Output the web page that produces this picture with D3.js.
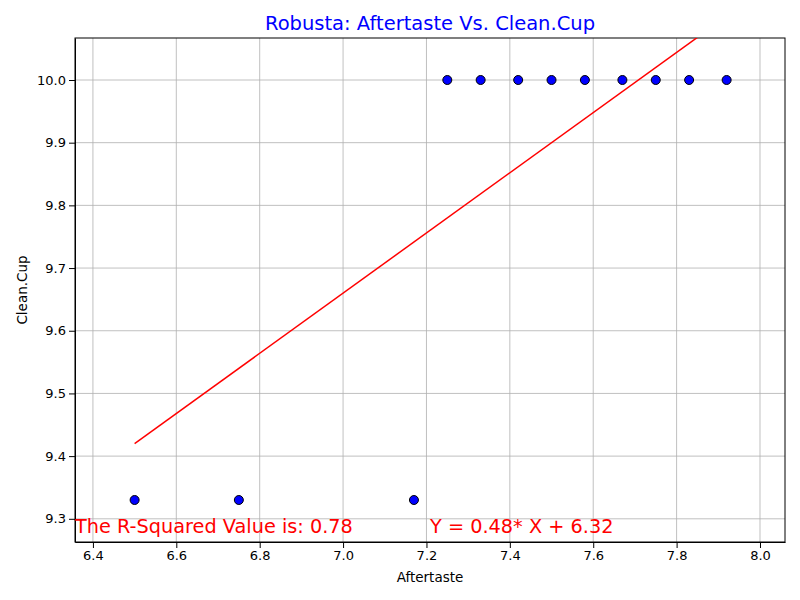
<!DOCTYPE html>
<html><head><meta charset="utf-8">
<script src="https://cdn.jsdelivr.net/npm/d3@7"></script>
<style>body{margin:0;background:#fff}text{font-family:"DejaVu Sans",sans-serif}</style>
</head><body><svg id="c" width="800" height="600"></svg>
<script>
const aftertaste = [6.5, 6.75, 7.17, 7.25, 7.33, 7.42, 7.5, 7.58, 7.67, 7.75, 7.83, 7.92];
const cleanCup = [9.33, 9.33, 9.33, 10, 10, 10, 10, 10, 10, 10, 10, 10];
const fit = { slope: 0.48, intercept: 6.30 };
const xTicks = [6.4, 6.6, 6.8, 7.0, 7.2, 7.4, 7.6, 7.8, 8.0];
const yTicks = [9.3, 9.4, 9.5, 9.6, 9.7, 9.8, 9.9, 10.0];

const svg = d3.select('#c');
const m = { l: 75, r: 785, t: 38, b: 542 };
const x = d3.scaleLinear().domain([6.357, 8.06]).range([m.l, m.r]);
const y = d3.scaleLinear().domain([9.263, 10.067]).range([m.b, m.t]);

svg.append('defs').append('clipPath').attr('id', 'clip')
	.append('rect').attr('x', m.l).attr('y', m.t).attr('width', m.r - m.l).attr('height', m.b - m.t);

const grid = svg.append('g').attr('stroke', '#b0b0b0').attr('stroke-width', 0.8);
grid.selectAll('.gx').data(xTicks).enter().append('line')
	.attr('x1', d => x(d)).attr('x2', d => x(d)).attr('y1', m.t).attr('y2', m.b);
grid.selectAll('.gy').data(yTicks).enter().append('line')
	.attr('y1', d => y(d)).attr('y2', d => y(d)).attr('x1', m.l).attr('x2', m.r);

svg.append('g').attr('transform', `translate(0,${m.b})`)
	.call(d3.axisBottom(x).tickValues(xTicks).tickFormat(d3.format('.1f')).tickSizeOuter(0))
	.call(g => g.selectAll('text').attr('font-size', 13).attr('fill', '#000'));
svg.append('g').attr('transform', `translate(${m.l},0)`)
	.call(d3.axisLeft(y).tickValues(yTicks).tickFormat(d3.format('.1f')).tickSizeOuter(0))
	.call(g => g.selectAll('text').attr('font-size', 13).attr('fill', '#000'));
svg.append('rect').attr('x', m.l).attr('y', m.t).attr('width', m.r - m.l).attr('height', m.b - m.t)
	.attr('fill', 'none').attr('stroke', '#000');

svg.append('g').selectAll('circle').data(aftertaste).enter().append('circle')
	.attr('cx', d => x(d)).attr('cy', (d, i) => y(cleanCup[i])).attr('r', 4.5)
	.attr('fill', '#0000ff').attr('stroke', '#000');

const ext = d3.extent(aftertaste);
svg.append('line').attr('clip-path', 'url(#clip)')
	.attr('x1', x(ext[0])).attr('y1', y(fit.slope * ext[0] + fit.intercept))
	.attr('x2', x(ext[1])).attr('y2', y(fit.slope * ext[1] + fit.intercept))
	.attr('stroke', 'red').attr('stroke-width', 1.5);

svg.append('text').attr('x', 430).attr('y', 30).attr('text-anchor', 'middle')
	.attr('font-size', 19.5).attr('fill', 'blue').text('Robusta: Aftertaste Vs. Clean.Cup');
svg.append('text').attr('x', 430).attr('y', 582).attr('text-anchor', 'middle')
	.attr('font-size', 13.5).text('Aftertaste');
svg.append('text').attr('transform', 'translate(27,290) rotate(-90)').attr('text-anchor', 'middle')
	.attr('font-size', 13.5).text('Clean.Cup');
svg.append('text').attr('x', 75).attr('y', 533).attr('font-size', 19.3).attr('fill', 'red')
	.text('The R-Squared Value is: 0.78');
svg.append('text').attr('x', 430).attr('y', 533).attr('font-size', 19.3).attr('fill', 'red')
	.text('Y = 0.48* X + 6.32');
</script></body></html>
